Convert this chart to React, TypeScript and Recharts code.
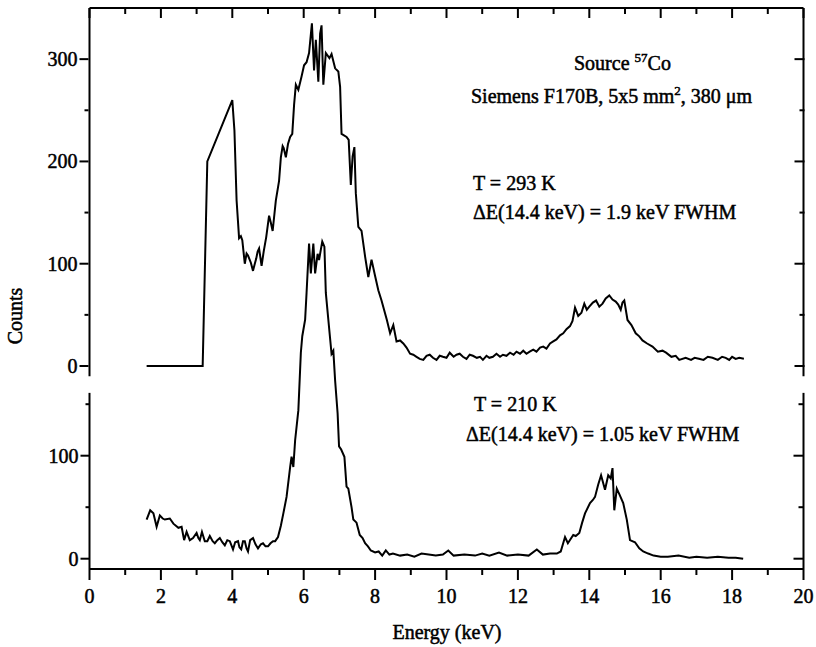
import React from "react";
import { LineChart, Line, XAxis, YAxis, ReferenceLine } from "recharts";

// T = 293 K spectrum (upper panel)
const energyWarm = [
  1.6, 3.17, 3.3, 4.0, 4.06, 4.12, 4.19, 4.24, 4.28, 4.35, 4.4, 4.44, 4.52, 4.58, 4.63, 4.67, 4.71, 4.75, 4.82, 4.88,
  4.95, 5.03, 5.08, 5.13, 5.22, 5.31, 5.36, 5.41, 5.44, 5.5, 5.56, 5.62, 5.68, 5.73, 5.78, 5.85, 5.94, 6.01, 6.08, 6.15,
  6.23, 6.29, 6.34, 6.41, 6.46, 6.5, 6.55, 6.62, 6.72, 6.78, 6.88, 6.97, 7.02, 7.06, 7.2, 7.26, 7.32, 7.37, 7.42, 7.46,
  7.53, 7.62, 7.72, 7.81, 7.9, 8.0, 8.09, 8.18, 8.33, 8.42, 8.51, 8.6, 8.7, 8.79, 8.88, 8.98, 9.07, 9.16, 9.25, 9.35,
  9.44, 9.53, 9.62, 9.72, 9.81, 9.9, 10.0, 10.09, 10.2, 10.28, 10.37, 10.46, 10.56, 10.65, 10.74, 10.85, 10.94, 11.02,
  11.12, 11.2, 11.3, 11.4, 11.5, 11.58, 11.68, 11.78, 11.88, 11.96, 12.06, 12.15, 12.24, 12.33, 12.43, 12.52, 12.62,
  12.71, 12.8, 12.9, 12.99, 13.08, 13.18, 13.27, 13.36, 13.46, 13.53, 13.6, 13.69, 13.78, 13.86, 13.93, 14.0, 14.1,
  14.19, 14.28, 14.37, 14.46, 14.56, 14.65, 14.74, 14.81, 14.88, 14.93, 14.98, 15.07, 15.18, 15.3, 15.4, 15.49, 15.62,
  15.77, 15.92, 16.05, 16.15, 16.3, 16.42, 16.52, 16.7, 16.85, 16.95, 17.07, 17.2, 17.32, 17.45, 17.6, 17.72, 17.82,
  17.92, 18.0, 18.1, 18.2, 18.33,
];
const countsWarm = [
  0, 0, 200, 260, 230, 162, 125, 127, 123, 100, 110, 108, 101, 93, 100, 105, 112, 115, 98, 112,
  126, 147, 140, 132, 162, 181, 204, 215, 213, 204, 217, 224, 227, 255, 275, 270, 283, 294, 297, 306,
  335, 289, 319, 278, 325, 333, 275, 306, 301, 305, 291, 288, 273, 227, 224, 221, 177, 205, 214, 169,
  136, 132, 107, 87, 104, 88, 74, 64, 45, 32, 40, 24, 25, 22, 18, 12, 11, 9, 7, 6,
  10, 11, 8, 6, 10, 9, 8, 13, 9, 11, 12, 9, 7, 11, 10, 8, 9, 6,
  10, 8, 9, 12, 9, 11, 10, 13, 11, 14, 12, 15, 12, 14, 16, 14, 18,
  19, 17, 22, 24, 26, 30, 32, 36, 39, 44, 57, 49, 52, 61, 55, 58, 62,
  64, 58, 61, 66, 69, 65, 63, 60, 55, 62, 64, 45, 40, 32, 29, 25, 22,
  19, 14, 15, 13, 9, 10, 6, 8, 6, 8, 7, 6, 9, 8, 6, 9, 8,
  6, 9, 7, 8, 7,
];

// T = 210 K spectrum (lower panel)
const energyCold = [
  1.6, 1.7, 1.79, 1.88, 1.97, 2.05, 2.11, 2.25, 2.35, 2.49, 2.58, 2.65, 2.72, 2.81, 2.9, 3.0, 3.05, 3.09, 3.15, 3.23,
  3.3, 3.37, 3.45, 3.51, 3.58, 3.65, 3.72, 3.79, 3.86, 3.93, 4.02, 4.08, 4.16, 4.2, 4.25, 4.3, 4.35, 4.4, 4.44, 4.5,
  4.58, 4.65, 4.72, 4.8, 4.86, 4.93, 5.0, 5.07, 5.14, 5.2, 5.28, 5.36, 5.43, 5.52, 5.62, 5.66, 5.71, 5.76, 5.85, 5.92,
  5.96, 6.04, 6.08, 6.15, 6.2, 6.27, 6.32, 6.39, 6.43, 6.52, 6.58, 6.62, 6.69, 6.78, 6.83, 6.88, 6.95, 6.99, 7.05, 7.14,
  7.2, 7.25, 7.34, 7.39, 7.48, 7.57, 7.65, 7.72, 7.8, 7.88, 8.0, 8.1, 8.2, 8.3, 8.4, 8.5, 8.7, 8.9, 9.1, 9.3,
  9.5, 9.7, 9.9, 10.05, 10.2, 10.5, 10.8, 11.0, 11.2, 11.47, 11.7, 12.0, 12.3, 12.53, 12.7, 12.9, 13.09, 13.2, 13.32, 13.4,
  13.55, 13.62, 13.72, 13.8, 13.88, 14.02, 14.1, 14.16, 14.25, 14.33, 14.44, 14.53, 14.6, 14.65, 14.7, 14.77, 14.85, 14.95, 15.05, 15.14,
  15.28, 15.4, 15.51, 15.65, 15.8, 16.0, 16.2, 16.5, 16.8, 17.0, 17.3, 17.6, 17.9, 18.1, 18.31,
];
const countsCold = [
  38, 47, 44, 31, 42, 39, 38, 39, 34, 30, 31, 18, 26, 18, 20, 25, 20, 18, 26, 17,
  17, 22, 17, 15, 18, 20, 16, 13, 18, 17, 9, 16, 17, 11, 9, 17, 17, 10, 7, 18,
  20, 14, 10, 14, 15, 12, 12, 15, 17, 17, 21, 32, 44, 60, 89, 99, 89, 115, 144, 200,
  216, 232, 258, 306, 277, 306, 277, 296, 290, 308, 303, 258, 232, 199, 202, 173, 141, 109, 106, 99,
  70, 68, 50, 38, 35, 23, 20, 15, 12, 8, 6, 7, 3, 8, 4, 5, 3, 4, 2, 5,
  4, 3, 4, 8, 3, 4, 3, 5, 3, 6, 3, 4, 3, 9, 4, 5, 5, 7, 21, 15,
  23, 22, 25, 35, 44, 54, 57, 60, 72, 81, 67, 81, 78, 88, 47, 68, 62, 54, 38, 18,
  16, 10, 7, 5, 3, 2, 2, 3, 1, 2, 1, 2, 1, 1, 0,
];

const energyTicks = [0, 1, 2, 3, 4, 5, 6, 7, 8, 9, 10, 11, 12, 13, 14, 15, 16, 17, 18, 19, 20];
const warmTicks = [0, 50, 100, 150, 200, 250, 300];
const coldTicks = [0, 50, 100, 150];

const warmData = energyWarm.map((e, i) => ({ e, c: countsWarm[i] }));
const coldData = energyCold.map((e, i) => ({ e, c: countsCold[i] }));

// both panels share one plot box; each y scale is placed so its zero sits in its own panel
const PLOT_H = 561;
const warmScale = 358 / 350;
const warmDomain = [350 - PLOT_H / warmScale, 350];
const coldScale = 1.03;
const coldDomain = [-10, -10 + PLOT_H / coldScale];

const font = {
  fontFamily: "'Liberation Serif', 'Times New Roman', serif",
  fontSize: 20,
  fill: "#000",
  stroke: "#000",
  strokeWidth: 0.5,
};

const BottomTick = (props: any) => {
  const { x, y, payload } = props;
  const major = payload.value % 2 === 0;
  return (
    <g>
      <line x1={x} x2={x} y1={y} y2={y + (major ? 11 : 6)} stroke="#000" strokeWidth={2} />
      {major && (
        <text x={x} y={y + 34} textAnchor="middle" style={font}>
          {payload.value}
        </text>
      )}
    </g>
  );
};

const TopTick = (props: any) => {
  const { x, y, payload } = props;
  const major = payload.value % 2 === 0;
  return <line x1={x} x2={x} y1={y} y2={y + (major ? 10 : 6)} stroke="#000" strokeWidth={2} />;
};

const LeftTick = (props: any) => {
  const { x, y, payload } = props;
  const major = payload.value % 100 === 0;
  return (
    <g>
      <line x1={x - (major ? 9 : 4)} x2={x} y1={y} y2={y} stroke="#000" strokeWidth={2} />
      {major && (
        <text x={x - 11} y={y} dy="0.35em" textAnchor="end" style={font}>
          {payload.value}
        </text>
      )}
    </g>
  );
};

const RightTick = (props: any) => {
  const { x, y, payload } = props;
  const major = payload.value % 100 === 0;
  return <line x1={x} x2={x - (major ? 10 : 5)} y1={y} y2={y} stroke="#000" strokeWidth={2} />;
};

export default function App() {
  return (
    <div style={{ position: "absolute", left: 0, top: 0, width: 816, height: 647, background: "#fff" }}>
      <LineChart width={816} height={647} margin={{ top: 7, right: 10.5, bottom: 77, left: 87.5 }}>
        <XAxis
          xAxisId="bottom"
          type="number"
          dataKey="e"
          domain={[0, 20]}
          ticks={energyTicks}
          interval={0}
          height={1}
          tickSize={0}
          tickMargin={0}
          tickLine={false}
          tick={<BottomTick />}
          axisLine={{ stroke: "#000", strokeWidth: 2 }}
          allowDataOverflow
        />
        <XAxis
          xAxisId="top"
          orientation="top"
          type="number"
          dataKey="e"
          domain={[0, 20]}
          ticks={energyTicks}
          interval={0}
          height={1}
          tickSize={0}
          tickMargin={0}
          tickLine={false}
          tick={<TopTick />}
          axisLine={{ stroke: "#000", strokeWidth: 2 }}
          allowDataOverflow
        />
        <YAxis yAxisId="warm" type="number" domain={warmDomain} ticks={warmTicks} interval={0} width={1}
          tickSize={0} tickMargin={0} tickLine={false} tick={<LeftTick />} axisLine={false} allowDataOverflow />
        <YAxis yAxisId="warmR" orientation="right" type="number" domain={warmDomain} ticks={warmTicks} interval={0}
          width={1} tickSize={0} tickMargin={0} tickLine={false} tick={<RightTick />} axisLine={false} allowDataOverflow />
        <YAxis yAxisId="cold" type="number" domain={coldDomain} ticks={coldTicks} interval={0} width={1}
          tickSize={0} tickMargin={0} tickLine={false} tick={<LeftTick />} axisLine={false} allowDataOverflow />
        <YAxis yAxisId="coldR" orientation="right" type="number" domain={coldDomain} ticks={coldTicks} interval={0}
          width={1} tickSize={0} tickMargin={0} tickLine={false} tick={<RightTick />} axisLine={false} allowDataOverflow />

        <ReferenceLine xAxisId="bottom" yAxisId="warm" segment={[{ x: 0, y: -10 }, { x: 0, y: 350 }]}
          stroke="#000" strokeWidth={2} ifOverflow="visible" />
        <ReferenceLine xAxisId="bottom" yAxisId="warm" segment={[{ x: 20, y: -10 }, { x: 20, y: 350 }]}
          stroke="#000" strokeWidth={2} ifOverflow="visible" />
        <ReferenceLine xAxisId="bottom" yAxisId="cold" segment={[{ x: 0, y: -10 }, { x: 0, y: 161 }]}
          stroke="#000" strokeWidth={2} ifOverflow="visible" />
        <ReferenceLine xAxisId="bottom" yAxisId="cold" segment={[{ x: 20, y: -10 }, { x: 20, y: 161 }]}
          stroke="#000" strokeWidth={2} ifOverflow="visible" />

        <Line xAxisId="bottom" yAxisId="warm" data={warmData} dataKey="c" type="linear" stroke="#000"
          strokeWidth={2} dot={false} isAnimationActive={false} />
        <Line xAxisId="bottom" yAxisId="cold" data={coldData} dataKey="c" type="linear" stroke="#000"
          strokeWidth={2} dot={false} isAnimationActive={false} />

        <g>
          <text x={574} y={70} style={font}>
            Source <tspan dy={-8} fontSize={13}>57</tspan>
            <tspan dy={8}>Co</tspan>
          </text>
          <text x={471} y={103} style={font}>
            Siemens F170B, 5x5 mm<tspan dy={-8} fontSize={13}>2</tspan>
            <tspan dy={8}>, 380 μm</tspan>
          </text>
          <text x={473} y={190} style={font}>T = 293 K</text>
          <text x={473} y={219} style={font}>ΔE(14.4 keV) = 1.9 keV FWHM</text>
          <text x={474} y={411} style={font}>T = 210 K</text>
          <text x={466} y={441} style={font}>ΔE(14.4 keV) = 1.05 keV FWHM</text>
          <text x={447} y={639} textAnchor="middle" style={font}>Energy (keV)</text>
          <text x={22} y={316} textAnchor="middle" transform="rotate(-90 22 316)" style={font}>Counts</text>
        </g>
      </LineChart>
    </div>
  );
}
